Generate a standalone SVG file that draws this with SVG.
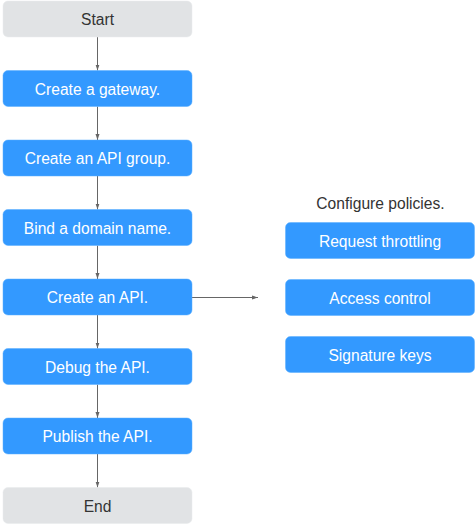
<svg xmlns="http://www.w3.org/2000/svg" width="476" height="525" viewBox="0 0 476 525">
<defs>
<style>
.b{fill:#3399FF;stroke:#5AAEFF;stroke-width:0.5}
.g{fill:#E1E3E5;stroke:#E8EAEC;stroke-width:0.5}
.t{font-family:"Liberation Sans",Arial,sans-serif;font-size:15.6px;text-anchor:middle;dominant-baseline:central}
.w{fill:#FFFFFF}
.d{fill:#333333}
.c{stroke:#666666;stroke-width:1;fill:none}
</style>
<marker id="ah" markerWidth="6" markerHeight="6" refX="6" refY="3" orient="auto" markerUnits="userSpaceOnUse">
<path d="M0,1 L6,3 L0,5 Z" fill="#666666"/>
</marker>
</defs>
<g id="connectors">
<line class="c" x1="97.5" y1="37" x2="97.5" y2="70.5" marker-end="url(#ah)"/>
<line class="c" x1="97.5" y1="106.5" x2="97.5" y2="140" marker-end="url(#ah)"/>
<line class="c" x1="97.5" y1="176" x2="97.5" y2="209.5" marker-end="url(#ah)"/>
<line class="c" x1="97.5" y1="245.5" x2="97.5" y2="279" marker-end="url(#ah)"/>
<line class="c" x1="97.5" y1="315" x2="97.5" y2="348.5" marker-end="url(#ah)"/>
<line class="c" x1="97.5" y1="384.5" x2="97.5" y2="418" marker-end="url(#ah)"/>
<line class="c" x1="97.5" y1="454" x2="97.5" y2="487.5" marker-end="url(#ah)"/>
<line class="c" x1="192" y1="297.5" x2="258" y2="297.5" marker-end="url(#ah)"/>
</g>
<g id="start"><rect class="g" x="3" y="1" width="189" height="36" rx="5"/><text class="t d" x="97.5" y="19.5">Start</text></g>
<g id="gateway"><rect class="b" x="3" y="70.5" width="189" height="36" rx="5"/><text class="t w" x="97.5" y="89">Create a gateway.</text></g>
<g id="group"><rect class="b" x="3" y="140" width="189" height="36" rx="5"/><text class="t w" x="97.5" y="158.5">Create an API group.</text></g>
<g id="domain"><rect class="b" x="3" y="209.5" width="189" height="36" rx="5"/><text class="t w" x="97.5" y="228">Bind a domain name.</text></g>
<g id="api"><rect class="b" x="3" y="279" width="189" height="36" rx="5"/><text class="t w" x="97.5" y="297.5">Create an API.</text></g>
<g id="debug"><rect class="b" x="3" y="348.5" width="189" height="36" rx="5"/><text class="t w" x="97.5" y="367">Debug the API.</text></g>
<g id="publish"><rect class="b" x="3" y="418" width="189" height="36" rx="5"/><text class="t w" x="97.5" y="436.5">Publish the API.</text></g>
<g id="end"><rect class="g" x="3" y="487.5" width="189" height="36" rx="5"/><text class="t d" x="97.5" y="506">End</text></g>
<g id="policies"><text class="t d" x="380.5" y="203">Configure policies.</text></g>
<g id="throttling"><rect class="b" x="285.5" y="222.5" width="189" height="36" rx="5"/><text class="t w" x="380" y="241">Request throttling</text></g>
<g id="access"><rect class="b" x="285.5" y="279.5" width="189" height="36" rx="5"/><text class="t w" x="380" y="298">Access control</text></g>
<g id="signature"><rect class="b" x="285.5" y="336.5" width="189" height="36" rx="5"/><text class="t w" x="380" y="355">Signature keys</text></g>
</svg>
